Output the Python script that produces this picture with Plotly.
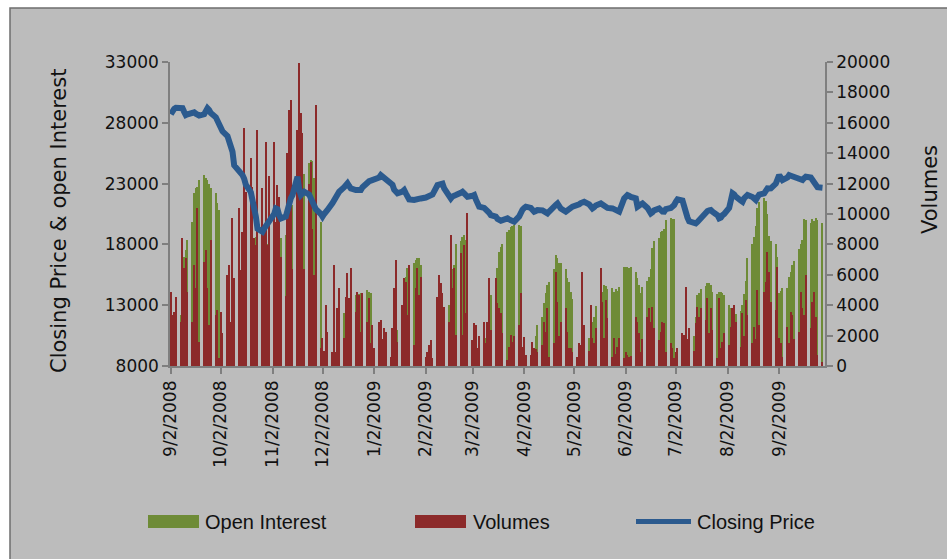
import pandas as pd
import plotly.graph_objects as go

# ---------------- data ----------------
dates = pd.bdate_range("2008-09-02", "2009-09-28")  # trading days (Mon-Fri)

closing_price = [
    # Sep 2008
    28700, 29000, 29150, 29240, 29300, 29200, 28900, 28640, 28700, 28800, 28860, 28750, 28600, 28590, 28700, 28950, 29190, 29050, 28800, 28450, 28150,
    # Oct 2008
    27820, 27600, 27300, 26900, 26500, 26000, 25620, 24500, 24100, 23900, 23700, 23400, 22900, 22300, 21700, 21000, 20300, 19300, 19040, 19300, 19500, 19600, 19870,
    # Nov 2008
    20500, 20960, 20900, 20400, 20140, 20300, 21000, 21510, 21800, 22060, 23570, 22500, 22060, 22200, 22330, 22100, 21800, 21500, 21240, 20900,
    # Dec 2008
    20500, 20280, 20500, 20800, 20830, 21400, 21650, 21900, 22100, 22330, 22700, 22900, 23020, 22800, 22600, 22470, 22450, 22470, 22470, 22700, 23150, 23200, 23250,
    # Jan 2009
    23290, 23290, 23500, 23700, 23600, 23450, 23380, 23150, 22900, 22500, 22250, 22200, 22350, 22470, 22200, 21900, 21700, 21650, 21700, 21750, 21780, 21780,
    # Feb 2009
    21850, 21900, 21950, 22060, 22100, 22880, 22950, 23020, 23000, 22600, 22000, 21780, 21950, 22060, 22060, 22250, 22330, 22200, 21950, 21920,
    # Mar 2009
    22000, 22060, 21700, 21300, 21100, 21000, 20900, 20830, 20600, 20400, 20280, 20100, 20000, 19950, 20000, 20140, 20050, 19950, 19870, 19870, 20300, 20690,
    # Apr 2009
    20850, 21000, 21100, 21000, 20800, 20690, 20750, 20830, 20800, 20700, 20600, 20550, 20700, 21000, 21250, 21370, 21200, 20950, 20690, 20750, 20900, 21000,
    # May 2009
    21100, 21200, 21300, 21400, 21500, 21510, 21300, 21100, 20960, 21050, 21200, 21370, 21300, 21150, 21100, 21000, 20960, 20900, 20800, 20750, 20690,
    # Jun 2009
    21780, 21950, 22060, 22000, 21900, 21780, 21100, 21200, 21300, 21370, 21000, 20700, 20550, 20650, 20800, 20960, 20800, 20700, 20690, 20900, 21000, 21100,
    # Jul 2009
    21240, 21500, 21700, 21600, 21000, 20550, 20200, 19900, 19730, 19730, 19850, 20000, 20200, 20690, 20750, 20800, 20830, 20700, 20400, 20140, 20200, 20400, 20500,
    # Aug 2009
    21000, 21800, 22200, 22100, 21920, 21600, 21510, 21800, 22000, 22060, 21900, 21700, 21650, 21900, 22100, 22200, 22450, 22610, 22600, 22610, 23000,
    # Sep 2009
    23400, 23700, 23500, 23290, 23500, 23700, 23650, 23600, 23570, 23450, 23300, 23290, 23450, 23570, 23500, 23300, 23000, 22880, 22700, 22660,
]

open_interest = [
    9500, 10400, 11100, 11800, 12200, 16060, 17000, 17540, 18360, 19870, 22200, 22600, 22750, 23300, 23700, 23500, 23300, 23000, 22600, 22200, 21380,
    20830, 10300, 10400, 10500, 10700, 10800, 10900, 11000, 11100, 12200, 16300, 16500, 16200, 16300, 16800, 17600, 18630, 18700, 18500, 18100, 18000, 18000, 18100,
    18100, 18200, 18300, 18400, 18500, 18800, 19500, 20500, 21100, 21240, 21300, 21400, 21500, 22500, 23800, 24700, 24950, 24900, 23500, 22000,
    19870, 7600, 7700, 7700, 7800, 7800, 7900, 8600, 10500, 11800, 12400, 12900, 13200, 13500, 13600, 13800, 13700, 13900, 14000, 14000, 14250, 14100, 14000,
    7700, 7700, 7700, 7700, 7800, 7800, 7800, 7900, 7900, 8300, 9500, 11000, 13000, 14500, 15300, 16100, 16300, 16500, 16700, 16900, 16900, 16300,
    7800, 7800, 7800, 7900, 7900, 7900, 8200, 9300, 11000, 12500, 13000, 13600, 16000, 16300, 18000, 18300, 18600, 18800, 18400, 16880,
    7700, 7700, 7800, 7900, 8200, 9200, 10300, 11000, 12500, 13800, 15000, 16060, 17400, 17800, 18000, 19000, 19200, 19400, 19500, 19600, 19600, 19550,
    8500, 7800, 7800, 7900, 8300, 9500, 10500, 11370, 12000, 13200, 14000, 14700, 14900, 16000, 17130, 16900, 16500, 16500, 16000, 15200, 14900, 14100,
    13500, 7800, 7800, 7900, 8200, 9500, 10300, 11100, 11600, 12000, 12900, 13600, 14100, 14660, 14600, 14300, 14400, 14100, 14300, 14200, 14500,
    16150, 16150, 16150, 16100, 16150, 15700, 15200, 14700, 14000, 14500, 15000, 15300, 16000, 17700, 18300, 18500, 19000, 19100, 19300, 20000, 20170, 20100,
    20100, 7800, 7800, 7800, 7900, 7900, 8300, 9200, 10500, 12000, 13840, 14000, 14300, 14600, 14830, 14800, 14700, 14100, 13900, 14100, 14100, 14000, 13800,
    13000, 12800, 12500, 12000, 12300, 12500, 13000, 13900, 15000, 16900, 18000, 18600, 19500, 21000, 21500, 21800, 21600, 20500, 18700, 18300, 18000,
    17000, 14000, 14200, 14400, 14400, 15300, 15700, 16300, 16600, 17600, 18000, 18400, 20100, 20000, 19800, 20100, 19900, 20200, 20000, 19800,
]

volumes = [
    4890, 3350, 3570, 4560, 2900, 8400, 6430, 7080, 4890, 2900, 6640, 5110, 10380, 1610, 6860, 7630, 5110, 2700, 8290, 3350, 3680,
    530, 3570, 2160, 5990, 6640, 2900, 9720, 5770, 10380, 6320, 8800, 15640, 11470, 13670, 11800, 8400, 7960, 15500, 11690, 9000, 14760, 7960, 12500,
    14760, 9500, 11900, 11100, 7200, 4600, 14000, 16840, 17500, 6400, 15530, 19930, 16640, 15330, 6400, 12000, 13400, 9000, 6000, 17170,
    1200, 1830, 1000, 4020, 2260, 950, 6640, 950, 3800, 5110, 1830, 4560, 6100, 4450, 6430, 3570, 4890, 4670, 2270, 4780, 2900, 4450, 1500,
    2700, 1200, 2900, 3000, 1800, 2500, 2270, 620, 2480, 5110, 6970, 1610, 4020, 5770, 5550, 3350, 6640, 1390, 5110, 6430, 4670, 5880,
    620, 900, 1390, 1720, 510, 4560, 5990, 5440, 4780, 3900, 2900, 8620, 5110, 6430, 2050, 7420, 2050, 7960, 3500, 10040,
    1720, 2810, 2700, 1170, 2000, 2900, 1500, 2900, 5770, 2370, 5770, 4130, 3800, 3500, 2200, 400, 1280, 2050, 1610, 2000, 2700, 4780,
    1280, 1940, 730, 700, 1610, 1200, 1100, 900, 1390, 2900, 2270, 3800, 600, 1500, 6210, 4240, 2000, 2900, 3800, 2270, 1170, 1170,
    900, 620, 1500, 1390, 6210, 2700, 1000, 4020, 1830, 1500, 2480, 6430, 4240, 1830, 4350, 3130, 620, 1830, 800, 1280, 1830,
    510, 950, 700, 600, 650, 3240, 2900, 2160, 950, 1800, 3240, 3800, 2900, 3900, 2500, 1720, 2270, 2900, 2800, 950, 1500, 1200,
    510, 950, 1200, 2160, 2050, 5220, 1800, 2480, 1000, 2810, 3900, 3240, 3800, 3000, 4460, 2160, 3800, 2370, 510, 4460, 1200, 1610, 2160,
    1390, 2590, 3800, 4020, 2900, 1280, 3460, 2000, 4350, 3350, 1500, 2590, 1800, 5000, 2700, 4890, 5550, 7520, 6210, 4200, 3690,
    6540, 1830, 1500, 620, 2590, 1500, 3570, 3350, 1800, 2270, 4890, 3800, 3350, 6000, 2480, 4240, 4890, 3240, 730, 290,
]

tick_dates = ["2008-09-02", "2008-10-02", "2008-11-02", "2008-12-02", "2009-01-02", "2009-02-02",
              "2009-03-02", "2009-04-02", "2009-05-02", "2009-06-02", "2009-07-02", "2009-08-02", "2009-09-02"]
tick_labels = ["9/2/2008", "10/2/2008", "11/2/2008", "12/2/2008", "1/2/2009", "2/2/2009",
               "3/2/2009", "4/2/2009", "5/2/2009", "6/2/2009", "7/2/2009", "8/2/2009", "9/2/2009"]
left_ticks = [8000, 13000, 18000, 23000, 28000, 33000]
right_ticks = [0, 2000, 4000, 6000, 8000, 10000, 12000, 14000, 16000, 18000, 20000]

# ---------------- styling ----------------
GREEN = "#6E8B37"
RED = "#8C2A2A"
BLUE = "#2B5A8E"
BG = "#BCBCBC"
AXIS = "#7F7F7F"
TXT = "#111111"
TICK_FONT = dict(family="DejaVu Sans", size=17, color=TXT)
BAR_W = 0.75 * 86400000  # ms

fig = go.Figure()
fig.add_trace(go.Bar(x=dates, y=open_interest, name="Open Interest", marker=dict(color=GREEN, line=dict(width=0)),
                     width=BAR_W, yaxis="y", showlegend=False))
fig.add_trace(go.Bar(x=dates, y=volumes, name="Volumes", marker=dict(color=RED, line=dict(width=0)),
                     width=BAR_W, yaxis="y2", showlegend=False))
fig.add_trace(go.Scatter(x=dates, y=closing_price, name="Closing Price", mode="lines",
                         line=dict(color=BLUE, width=6), yaxis="y3", showlegend=False))

# plot area: x 170..825 px, y 62..366 px
L, R, T, B = 170, 825, 62, 366
W, H = R - L, B - T


def px(xp):
    return (xp - L) / W


def py(yp):
    return (B - yp) / H


shapes = [
    # grey chart frame
    dict(type="rect", xref="paper", yref="paper", x0=px(10), x1=px(960), y0=py(575), y1=py(8),
         fillcolor=BG, line=dict(color="#6E6E6E", width=1.5), layer="below"),
    # manual legend symbols
    dict(type="rect", xref="paper", yref="paper", x0=px(148), x1=px(199), y0=py(528), y1=py(515),
         fillcolor=GREEN, line=dict(width=0)),
    dict(type="rect", xref="paper", yref="paper", x0=px(415), x1=px(466), y0=py(528), y1=py(515),
         fillcolor=RED, line=dict(width=0)),
    dict(type="line", xref="paper", yref="paper", x0=px(636), x1=px(691), y0=py(521.5), y1=py(521.5),
         line=dict(color=BLUE, width=5)),
]

LEG_FONT = dict(family="Liberation Sans", size=20, color=TXT)
annotations = [
    dict(text="Closing Price & open Interest", xref="paper", yref="paper", x=px(59), y=py(221),
         textangle=-90, showarrow=False, xanchor="center", yanchor="middle",
         font=dict(family="DejaVu Sans", size=21, color=TXT)),
    dict(text="Volumes", xref="paper", yref="paper", x=px(930), y=py(190),
         textangle=-90, showarrow=False, xanchor="center", yanchor="middle",
         font=dict(family="DejaVu Sans", size=21, color=TXT)),
    dict(text="Open Interest", xref="paper", yref="paper", x=px(203), y=py(521.5), showarrow=False,
         xanchor="left", yanchor="middle", font=LEG_FONT),
    dict(text="Volumes", xref="paper", yref="paper", x=px(471), y=py(521.5), showarrow=False,
         xanchor="left", yanchor="middle", font=LEG_FONT),
    dict(text="Closing Price", xref="paper", yref="paper", x=px(695), y=py(521.5), showarrow=False,
         xanchor="left", yanchor="middle", font=LEG_FONT),
]

fig.update_layout(
    width=947, height=559,
    margin=dict(l=L, r=947 - R, t=T, b=559 - B, pad=0, autoexpand=False),
    paper_bgcolor="white",
    plot_bgcolor="rgba(0,0,0,0)",
    barmode="overlay",
    bargap=0,
    showlegend=False,
    shapes=shapes,
    annotations=annotations,
    xaxis=dict(type="date", range=["2008-09-01 12:00", "2009-09-29 12:00"],
               tickmode="array", tickvals=tick_dates, ticktext=tick_labels, tickangle=-90,
               ticks="outside", ticklen=6, tickcolor=AXIS, tickwidth=1.5,
               showline=True, linecolor=AXIS, linewidth=1.5, showgrid=False, zeroline=False,
               tickfont=TICK_FONT),
    yaxis=dict(range=[8000, 33000], tickmode="array", tickvals=left_ticks,
               ticktext=[str(v) for v in left_ticks],
               ticks="outside", ticklen=6, tickcolor=AXIS, tickwidth=1.5,
               showline=True, linecolor=AXIS, linewidth=1.5, showgrid=False, zeroline=False,
               tickfont=TICK_FONT),
    yaxis2=dict(range=[0, 20000], overlaying="y", side="right", tickmode="array", tickvals=right_ticks,
                ticktext=[str(v) for v in right_ticks],
                ticks="outside", ticklen=6, tickcolor=AXIS, tickwidth=1.5,
                showline=True, linecolor=AXIS, linewidth=1.5, showgrid=False, zeroline=False,
                tickfont=TICK_FONT),
    yaxis3=dict(range=[8000, 33000], overlaying="y", visible=False),
)

fig.write_html("out.html", config={"displayModeBar": False},
               post_script="document.body.style.margin='0';")
